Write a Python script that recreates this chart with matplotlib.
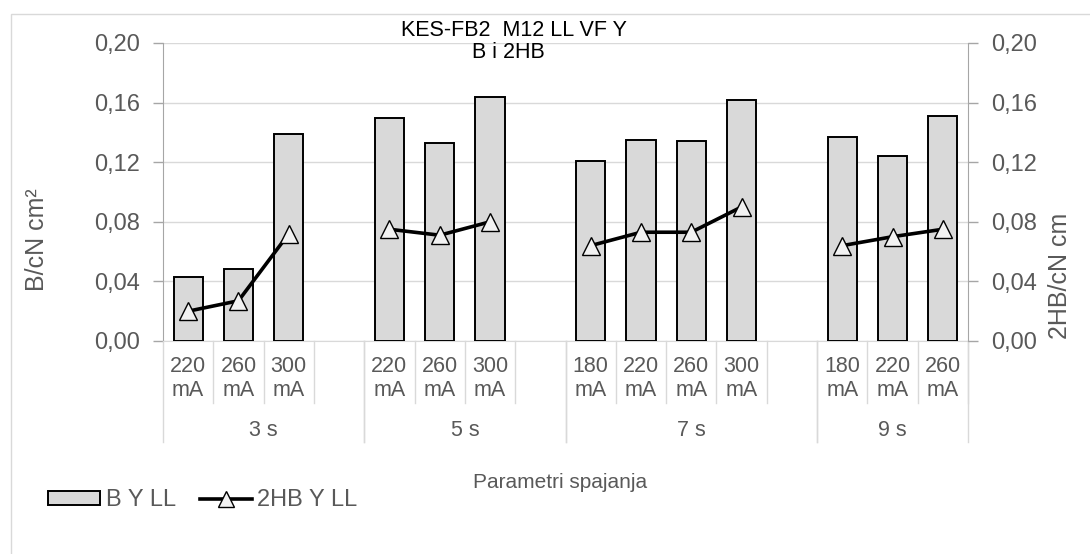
import matplotlib
matplotlib.use("Agg")
import matplotlib.pyplot as plt
from matplotlib.patches import Rectangle, Patch
from matplotlib.lines import Line2D
from matplotlib.ticker import FuncFormatter, FixedLocator
import matplotlib.transforms as mtransforms

plt.rcParams['font.family'] = ['Liberation Sans', 'DejaVu Sans']

# welding time groups and current settings inside each group
time_labels = ["3 s", "5 s", "7 s", "9 s"]
current_labels = [
    ["220", "260", "300"],
    ["220", "260", "300"],
    ["180", "220", "260", "300"],
    ["180", "220", "260"],
]

# bending rigidity B [cN cm2/cm] per current
b_values = [
    [0.043, 0.048, 0.139],
    [0.150, 0.133, 0.164],
    [0.121, 0.135, 0.134, 0.162],
    [0.137, 0.124, 0.151],
]

# bending hysteresis 2HB [cN cm/cm] per current
hb_values = [
    [0.020, 0.027, 0.072],
    [0.075, 0.071, 0.080],
    [0.064, 0.073, 0.073, 0.090],
    [0.064, 0.070, 0.075],
]

GRAY_TXT = "#595959"
GRID = "#D9D9D9"
SPINE = "#A6A6A6"

fig = plt.figure(figsize=(10.9, 5.54), dpi=100)
ax = fig.add_axes([163 / 1090, 1 - 341 / 554, (968 - 163) / 1090, (341 - 43) / 554])
ax2 = ax.twinx()

# chart area border
fig.add_artist(Rectangle((11 / 1090, -0.2), 1.5, 0.2 + 1 - 14 / 554,
                         transform=fig.transFigure, fill=False,
                         edgecolor=GRID, linewidth=1.0))

# slot positions: one empty slot after every group except the last
positions = []
group_spans = []
slot = 0
for gi, currents in enumerate(current_labels):
    start = slot
    pos = list(range(slot, slot + len(currents)))
    positions.append(pos)
    slot += len(currents)
    if gi < len(current_labels) - 1:
        slot += 1
    group_spans.append((start, slot))
n_slots = slot

for pos, vals in zip(positions, b_values):
    ax.bar(pos, vals, width=0.58, color="#D9D9D9", edgecolor="black",
           linewidth=1.4, zorder=3)

for pos, vals in zip(positions, hb_values):
    ax2.plot(pos, vals, color="black", linewidth=2.6, marker="^",
             markersize=13, markerfacecolor="#F2F2F2",
             markeredgecolor="black", markeredgewidth=1.0, zorder=4)

fmt = FuncFormatter(lambda v, p: f"{v:.2f}".replace(".", ","))
yticks = [0.0, 0.04, 0.08, 0.12, 0.16, 0.20]
for a in (ax, ax2):
    a.set_ylim(0, 0.20)
    a.set_xlim(-0.5, n_slots - 0.5)
    a.yaxis.set_major_locator(FixedLocator(yticks))
    a.yaxis.set_major_formatter(fmt)
    a.tick_params(axis="y", labelsize=17, labelcolor=GRAY_TXT, color=SPINE,
                  length=7, width=1.0)
    for s in a.spines.values():
        s.set_visible(False)

ax.tick_params(axis="y", pad=9.5)
ax2.tick_params(axis="y", pad=9.5)
ax.spines["left"].set_visible(True)
ax.spines["left"].set_color(SPINE)
ax2.spines["right"].set_visible(True)
ax2.spines["right"].set_color(SPINE)
ax.spines["bottom"].set_visible(True)
ax.spines["bottom"].set_color(GRID)

ax.grid(axis="y", color=GRID, linewidth=1.0, zorder=0)
ax.set_axisbelow(True)

# category axis: small ticks at slot boundaries
ax.set_xticks([b - 0.5 for b in range(1, n_slots)])
ax.tick_params(axis="x", direction="in", length=5, color=GRID,
               labelbottom=False)
ax2.set_xticks([])

trans = mtransforms.blended_transform_factory(ax.transData, ax.transAxes)
h = 341 - 43

for pos, currents in zip(positions, current_labels):
    for x, c in zip(pos, currents):
        ax.text(x, (341 - 378.5) / h, f"{c}\nmA", transform=trans,
                ha="center", va="center", fontsize=15.5, color=GRAY_TXT,
                linespacing=1.15)
        ax.plot([x + 0.5, x + 0.5], [0, (341 - 403) / h], transform=trans,
                color=GRID, linewidth=1.0, clip_on=False)

for (start, end), label in zip(group_spans, time_labels):
    ax.text((start + end - 1) / 2, (341 - 430) / h, label, transform=trans,
            ha="center", va="center", fontsize=15.5, color=GRAY_TXT)
    for b in (start - 0.5, end - 0.5):
        ax.plot([b, b], [0, (341 - 442) / h], transform=trans,
                color=GRID, linewidth=1.0, clip_on=False)

# titles and axis names
fig.text(514 / 1090, 1 - 30.5 / 554, "KES-FB2  M12 LL VF Y", ha="center",
         va="center", fontsize=15.5, color="black")
fig.text(508 / 1090, 1 - 52.5 / 554, "B i 2HB", ha="center", va="center",
         fontsize=15.5, color="black")
fig.text(37 / 1090, 1 - 240 / 554, "B/cN cm²", rotation=90, ha="center",
         va="center", fontsize=18, color=GRAY_TXT)
fig.text(1060 / 1090, 1 - 276 / 554, "2HB/cN cm", rotation=90, ha="center",
         va="center", fontsize=18, color=GRAY_TXT)
fig.text(560 / 1090, 1 - 482 / 554, "Parametri spajanja", ha="center",
         va="center", fontsize=15, color=GRAY_TXT)

handles = [
    Patch(facecolor="#D9D9D9", edgecolor="black", linewidth=1.4),
    Line2D([], [], color="black", linewidth=2.6, marker="^", markersize=11,
           markerfacecolor="#F2F2F2", markeredgecolor="black",
           markeredgewidth=1.0),
]
fig.legend(handles, ["B Y LL", "2HB Y LL"], loc="center left",
           bbox_to_anchor=(48 / 1090, 1 - 500.5 / 554), ncol=2, frameon=False,
           fontsize=17, labelcolor=GRAY_TXT, handlelength=2.2,
           handleheight=0.55, handletextpad=0.25, columnspacing=1.0,
           borderpad=0.0, borderaxespad=0.0)

fig.savefig("out.png", dpi=100)
